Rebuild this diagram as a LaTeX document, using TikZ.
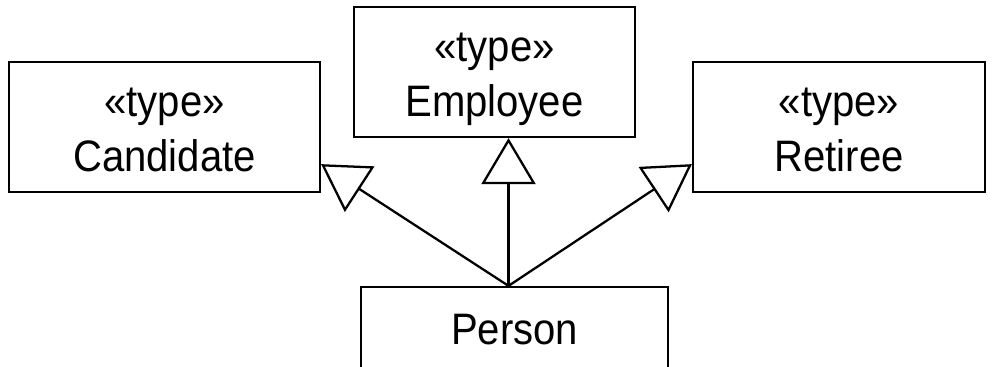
\documentclass[tikz,border=0pt]{standalone}
\usepackage{fontspec}
\usepackage{graphicx}
\setmainfont{Liberation Sans}
\usetikzlibrary{arrows.meta}

% the original lettering is a little taller than wide
\newcommand{\tall}[1]{\scalebox{1}[1.1]{#1}}
\newcommand{\typetext}[1]{\rule{0pt}{0.91cm}\tall{«type»}\\\tall{#1}\rule[-0.25cm]{0pt}{0.25cm}}

\begin{document}
\begin{tikzpicture}[
    x=0.02cm, y=-0.02cm,
    every node/.style={font=\fontsize{22.8}{31.3}\selectfont},
    typebox/.style={
        draw,
        line width=1.3pt,
        align=center,
        inner sep=0pt,
        minimum height=2.6cm
    },
    gen/.style={
        line width=1.3pt,
        -{Triangle[open, length=0.92cm, width=1.08cm, line width=1.3pt]}
    }
]
    \useasboundingbox (0,0) rectangle (993,366);

    % Types
    \node[typebox, minimum width=6.22cm] (cand) at (164.5,127) {\typetext{Candidate}};
    \node[typebox, minimum width=5.62cm] (emp) at (494.5,72) {\typetext{Employee}};
    \node[typebox, minimum width=5.84cm] (ret) at (839,127) {\typetext{Retiree}};

    % Subtype (cut off at the bottom)
    \node[
        draw,
        line width=1.3pt,
        minimum width=6.14cm,
        minimum height=1.72cm
    ] (per) at (514.5,330) {\tall{Person}};
    \coordinate (root) at ([xshift=-0.12cm]per.north);

    \draw[gen] (root) -- ([yshift=0.58cm]cand.south east);
    \draw[gen] (root) -- (emp.south -| root);
    \draw[gen] (root) -- ([yshift=0.58cm]ret.south west);

\end{tikzpicture}
\end{document}
